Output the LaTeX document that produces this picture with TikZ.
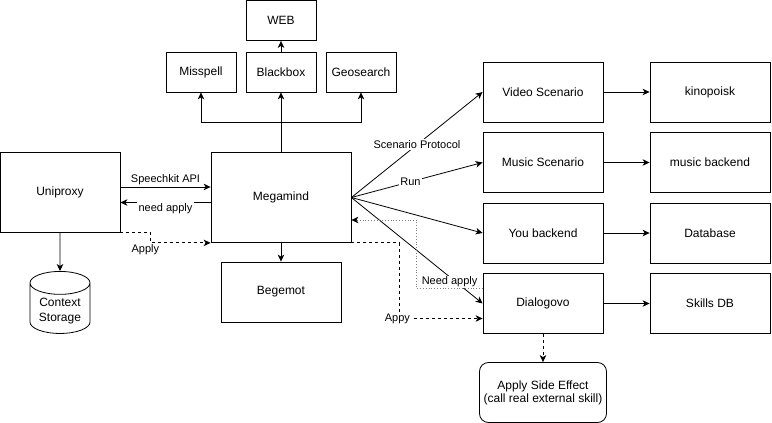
\documentclass[tikz,border=0pt]{standalone}
\usepackage{fontspec}
\setmainfont{Liberation Sans}
\usetikzlibrary{shapes.geometric,arrows.meta}

\tikzstyle{service} = [rectangle, minimum width=120pt, minimum height=60pt, text centered, align=center, draw=black, line width=0.8pt, font=\fontsize{12pt}{14pt}\selectfont]
\tikzstyle{smallbox} = [service, minimum width=70pt, minimum height=40pt]
\tikzstyle{storage} = [cylinder, shape border rotate=90, aspect=0.47, minimum width=60pt, minimum height=60pt, align=center, draw=black, line width=0.8pt, font=\fontsize{12pt}{15pt}\selectfont]
\tikzstyle{effect} = [service, rounded corners=9pt, minimum width=127pt, font=\fontsize{12pt}{13pt}\selectfont]
\tikzstyle{edgetext} = [font=\fontsize{11pt}{13pt}\selectfont, text=black, inner sep=1.5pt]
\tikzstyle{arrow} = [line width=0.8pt,->,>={Stealth[length=7pt,width=6.5pt,inset=2pt]}]

\begin{document}
\begin{tikzpicture}[node distance=70.5pt]
\useasboundingbox (-281pt,-225.5pt) rectangle (491pt,197.5pt);

\node (megamind) [service, minimum width=140pt, minimum height=90pt] {Megamind};
\node (uniproxy) [service, minimum height=80pt, node distance=221pt, left of=megamind, yshift=5.5pt] {Uniproxy};
\node (storage) [storage, node distance=119pt, below of=uniproxy] {Context\\Storage};
\node (begemot) [service, node distance=94.5pt, below of=megamind] {Begemot};
\node (blackbox) [smallbox, node distance=125.5pt, above of=megamind] {Blackbox};
\node (web) [smallbox, node distance=51.5pt, above of=blackbox] {WEB};
\node (misspell) [smallbox, node distance=80pt, left of=blackbox] {Misspell};
\node (geosearch) [smallbox, node distance=80pt, right of=blackbox] {Geosearch};

\node (video) [service, node distance=262pt, right of=megamind, yshift=105.5pt] {Video Scenario};
\node (music) [service, below of=video] {Music Scenario};
\node (you) [service, below of=music] {You backend};
\node (dialogovo) [service, below of=you] {Dialogovo};
\node (kinopoisk) [service, node distance=167pt, right of=video] {kinopoisk};
\node (musicbackend) [service, node distance=167pt, right of=music] {music backend};
\node (database) [service, node distance=167pt, right of=you] {Database};
\node (skillsdb) [service, node distance=167pt, right of=dialogovo] {Skills DB};
\node (sideeffect) [effect, node distance=89pt, below of=dialogovo] {Apply Side Effect\\(call real external skill)};

\draw [arrow] ([yshift=5pt]uniproxy.east) -- node[edgetext, above] {Speechkit API} ([yshift=5pt]uniproxy.east -| megamind.west);
\draw [arrow] ([yshift=-5pt]megamind.west) -- node[edgetext, fill=white, yshift=-6pt] {need apply} ([yshift=-5pt]megamind.west -| uniproxy.east);
\draw [arrow, dashed] (uniproxy.south east) -- ++(30pt,0) |- node[edgetext, below, xshift=-5pt] {Apply} (megamind.south west);
\draw [arrow] (uniproxy) -- (storage);

\draw [arrow] (megamind) -- (begemot);
\draw [arrow] (megamind) -- (blackbox);
\draw [arrow] (megamind.north) -- ++(0,30pt) -| (misspell);
\draw [arrow] (megamind.north) -- ++(0,30pt) -| (geosearch);
\draw [arrow] (blackbox) -- (web);

\draw [arrow] (megamind.east) -- node[edgetext, fill=white] {Scenario Protocol} (video.west);
\draw [arrow] (megamind.east) -- node[edgetext, fill=white, pos=0.45] {Run} (music.west);
\draw [arrow] (megamind.east) -- (you.west);
\draw [arrow] (megamind.east) -- (dialogovo.west);
\draw [arrow, dotted, gray, -{Stealth[length=7pt,width=6.5pt,inset=2pt,black]}] ([yshift=15pt]dialogovo.west) -- node[edgetext, fill=white, above, inner sep=1pt] {Need apply} ++(-66pt,0) |- ([yshift=-22.5pt]megamind.east);
\draw [arrow, dashed] (megamind.south east) -- ++(48pt,0) |- node[edgetext, fill=white, xshift=-2pt] {Appy} ([yshift=-15pt]dialogovo.west);

\draw [arrow] (video) -- (kinopoisk);
\draw [arrow] (music) -- (musicbackend);
\draw [arrow] (you) -- (database);
\draw [arrow] (dialogovo) -- (skillsdb);
\draw [arrow, dashed] (dialogovo) -- (sideeffect);

\end{tikzpicture}
\end{document}
